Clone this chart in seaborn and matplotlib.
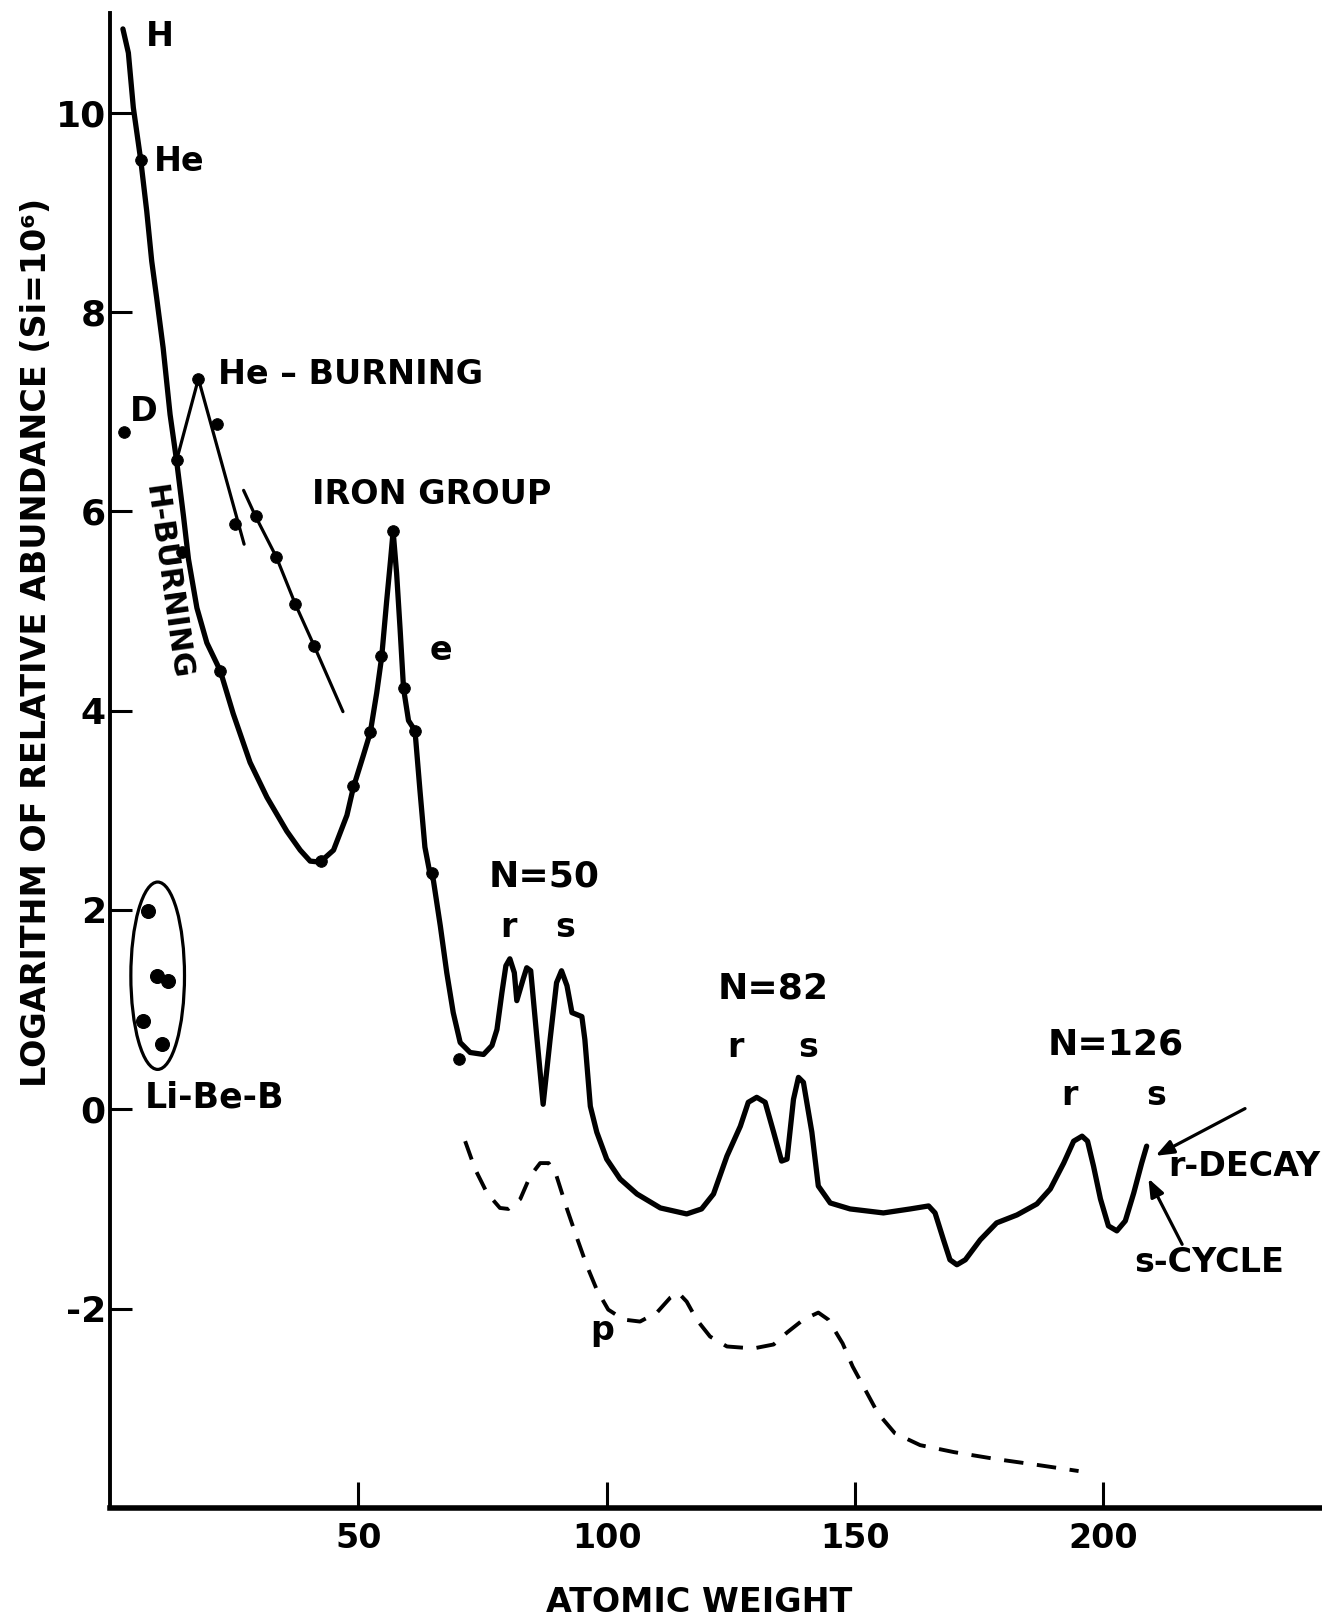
import numpy as np
import pandas as pd
import matplotlib
matplotlib.use("Agg")
import matplotlib.pyplot as plt
from matplotlib.patches import Ellipse
import seaborn as sns

# ---- abundance curve (atomic weight, log relative abundance, Si = 1e6) ----
main_a = [2.6, 3.7, 4.7, 6.2, 7.4, 8.4, 9.4, 10.7, 12.1, 13.4, 14.8, 15.8, 17.5,
          19.5, 22.2, 24.8, 28.2, 31.6, 35.6, 38.3, 40.3, 42.3, 45.0, 47.7, 49.0,
          51.0, 52.4, 53.7, 54.7, 55.7, 56.5, 57.0, 57.7, 58.4, 59.1, 60.1, 61.4,
          62.4, 63.4, 64.4, 65.1, 66.5, 67.8, 69.1, 70.5, 72.5, 75.2, 76.9, 77.9,
          78.9, 79.7, 80.5, 81.4, 81.9, 83.2, 83.9, 84.7, 85.9, 87.2, 88.6, 89.9,
          90.9, 92.0, 93.0, 95.0, 95.6, 96.7, 98.0, 100.0, 102.7, 106.1, 110.8,
          116.1, 119.1, 121.5, 124.2, 126.9, 128.5, 130.2, 131.9, 133.6, 135.2,
          136.3, 137.6, 138.6, 139.6, 141.3, 142.6, 145.0, 149.0, 155.7, 161.1,
          164.8, 166.1, 167.8, 169.1, 170.5, 172.2, 175.2, 178.5, 182.6, 186.6,
          189.3, 192.0, 194.0, 195.7, 196.8, 198.0, 199.4, 201.0, 202.7, 204.4,
          206.1, 207.7, 208.7]
main_v = [10.84, 10.60, 10.05, 9.52, 9.01, 8.51, 8.14, 7.64, 6.97, 6.51, 5.95, 5.52,
          5.03, 4.68, 4.40, 3.97, 3.48, 3.13, 2.79, 2.60, 2.49, 2.48, 2.60, 2.95,
          3.23, 3.55, 3.78, 4.18, 4.54, 5.10, 5.52, 5.80, 5.38, 4.82, 4.22, 3.90,
          3.80, 3.20, 2.63, 2.37, 2.30, 1.84, 1.37, 0.97, 0.67, 0.57, 0.55, 0.64,
          0.80, 1.17, 1.44, 1.51, 1.37, 1.09, 1.31, 1.42, 1.39, 0.74, 0.05, 0.70,
          1.27, 1.39, 1.24, 0.97, 0.93, 0.70, 0.03, -0.23, -0.50, -0.70, -0.85,
          -0.99, -1.05, -1.00, -0.85, -0.47, -0.17, 0.07, 0.12, 0.07, -0.23, -0.52,
          -0.50, 0.10, 0.32, 0.27, -0.23, -0.77, -0.94, -1.00, -1.04, -1.00,
          -0.97, -1.04, -1.31, -1.51, -1.56, -1.51, -1.31, -1.14, -1.06, -0.95,
          -0.80, -0.54, -0.32, -0.27, -0.32, -0.57, -0.90, -1.17, -1.22, -1.12,
          -0.84, -0.54, -0.37]

# p-process (dashed) curve
p_a = [71.5, 73.5, 75.9, 78.5, 80.2, 82.6, 84.6, 86.6, 88.3, 89.9, 92.0, 94.0,
       96.0, 98.0, 100.3, 103.4, 106.7, 110.1, 112.8, 114.4, 116.1, 118.1, 120.8,
       124.2, 129.5, 133.6, 136.3, 139.6, 142.6, 144.6, 147.5, 149.5, 152.0,
       154.6, 158.0, 163.1, 169.9, 178.4, 186.9, 195.0]
p_v = [-0.32, -0.60, -0.84, -0.99, -1.00, -0.90, -0.67, -0.54, -0.54, -0.67,
       -1.00, -1.29, -1.57, -1.81, -2.01, -2.11, -2.13, -2.04, -1.89, -1.84,
       -1.93, -2.11, -2.28, -2.38, -2.40, -2.36, -2.24, -2.11, -2.04, -2.11,
       -2.35, -2.58, -2.81, -3.05, -3.25, -3.37, -3.44, -3.51, -3.57, -3.63]

# helium-burning branches
heb1_a = [13.4, 17.8, 27.0]
heb1_v = [6.51, 7.33, 5.67]
heb2_a = [26.9, 29.3, 33.5, 37.3, 41.1, 46.9]
heb2_v = [6.21, 5.95, 5.54, 5.07, 4.65, 3.99]

# measured points
dot_a = [6.2, 13.4, 14.4, 22.2, 42.4, 49.0, 52.4, 54.6, 57.0, 59.1, 61.4, 64.9,
         70.2, 17.8, 21.6, 25.2, 29.3, 33.5, 37.3, 41.1, 2.9]
dot_v = [9.52, 6.51, 5.59, 4.40, 2.49, 3.24, 3.79, 4.55, 5.80, 4.23, 3.80, 2.37,
         0.50, 7.33, 6.88, 5.87, 5.95, 5.54, 5.07, 4.65, 6.80]
libeb_a = [7.7, 9.4, 11.7, 6.7, 10.4]
libeb_v = [1.99, 1.34, 1.29, 0.89, 0.65]

x_ticks = [50, 100, 150, 200]
x_tick_labels = ["50", "100", "150", "200"]
y_ticks = [-2, 0, 2, 4, 6, 8, 10]
y_tick_labels = ["-2", "0", "2", "4", "6", "8", "10"]

sns.set_theme(style="white")
plt.rcParams["font.family"] = ["DejaVu Sans"]
plt.rcParams["font.weight"] = "bold"

fig = plt.figure(figsize=(13.22, 16.23), dpi=100)
ax = fig.add_axes([0.0832, 0.0709, 0.9168, 0.9211])
ink = "black"

main_df = pd.DataFrame({"a": main_a, "v": main_v})
sns.lineplot(data=main_df, x="a", y="v", sort=False, estimator=None,
             color=ink, lw=3.8, ax=ax)
p_df = pd.DataFrame({"a": p_a, "v": p_v})
sns.lineplot(data=p_df, x="a", y="v", sort=False, estimator=None,
             color=ink, lw=2.8, ax=ax)
ax.lines[-1].set_dashes([5, 3.5])
for xa, yv in ((heb1_a, heb1_v), (heb2_a, heb2_v)):
    sns.lineplot(x=xa, y=yv, sort=False, estimator=None, color=ink, lw=2.3, ax=ax)

sns.scatterplot(x=dot_a, y=dot_v, color=ink, s=70, edgecolor=ink, ax=ax, zorder=5)
sns.scatterplot(x=libeb_a, y=libeb_v, color=ink, s=100, edgecolor=ink, ax=ax, zorder=5)
ax.add_patch(Ellipse((9.6, 1.34), 10.8, 1.88, angle=0, fill=False,
                     edgecolor=ink, lw=2.3))

# axes
ax.set_xlim(0, 244)
ax.set_ylim(-4, 11.0)
for side in ("top", "right"):
    ax.spines[side].set_visible(False)
ax.spines["left"].set_linewidth(2.8)
ax.spines["bottom"].set_linewidth(4.0)
ax.spines["left"].set_color(ink)
ax.spines["bottom"].set_color(ink)
ax.set_xticks(x_ticks)
ax.set_xticklabels(x_tick_labels)
ax.set_yticks(y_ticks)
ax.set_yticklabels(y_tick_labels)
ax.tick_params(axis="y", direction="in", length=16, width=2.2, pad=3,
               labelsize=26, colors=ink, left=True)
ax.tick_params(axis="x", direction="in", length=19, width=2.2, pad=10,
               labelsize=24, colors=ink, bottom=True)
ax.grid(False)

ax.set_xlabel("ATOMIC WEIGHT", fontsize=24, fontweight="bold", color=ink)
ax.xaxis.set_label_coords(0.486, -0.063)
ax.xaxis.label.set_va("center")
ax.set_ylabel("LOGARITHM OF RELATIVE ABUNDANCE (Si=10⁶)", fontsize=24,
              fontweight="bold", color=ink)
ax.yaxis.set_label_coords(-0.061, 0.579)
ax.yaxis.label.set_va("center")

# annotations
fs = 24
labels = [
    ("H", 10.0, 10.76, "center", fs),
    ("He", 13.9, 9.51, "center", fs),
    ("D", 6.85, 7.0, "center", fs),
    ("He – BURNING", 48.5, 7.37, "center", fs),
    ("IRON GROUP", 64.8, 6.17, "center", fs),
    ("e", 66.7, 4.60, "center", fs),
    ("N=50", 87.4, 2.34, "center", 26),
    ("r", 80.3, 1.82, "center", fs),
    ("s", 91.6, 1.82, "center", fs),
    ("N=82", 133.5, 1.21, "center", 26),
    ("r", 125.9, 0.62, "center", fs),
    ("s", 140.6, 0.62, "center", fs),
    ("N=126", 202.4, 0.65, "center", 26),
    ("r", 193.1, 0.14, "center", fs),
    ("s", 210.6, 0.14, "center", fs),
    ("r-DECAY", 213.0, -0.57, "left", fs),
    ("s-CYCLE", 206.3, -1.54, "left", fs),
    ("Li-Be-B", 7.05, 0.12, "left", 25),
    ("p", 99.1, -2.22, "center", fs),
]
for txt, xa, yv, ha, size in labels:
    ax.text(xa, yv, txt, fontsize=size, fontweight="bold", ha=ha, va="center",
            color=ink)
ax.text(11.5, 5.29, "H-BURNING", fontsize=22, fontweight="bold", rotation=-82,
        ha="center", va="center", color=ink, rotation_mode="anchor")

arrow_kw = dict(arrowstyle="-|>,head_length=0.9,head_width=0.35", color=ink, lw=2.3)
ax.annotate("", xy=(210.0, -0.48), xytext=(229.0, 0.02), arrowprops=arrow_kw)
ax.annotate("", xy=(208.8, -0.67), xytext=(216.1, -1.38), arrowprops=arrow_kw)

fig.savefig("out.png", dpi=100, facecolor="white")
